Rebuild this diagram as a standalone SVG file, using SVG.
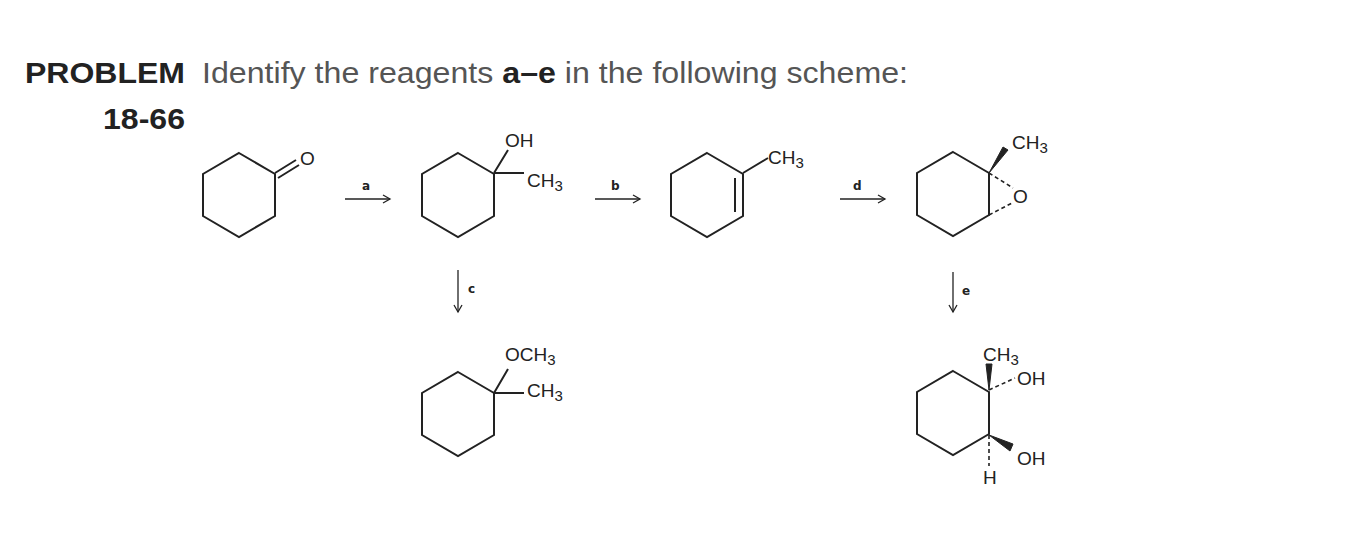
<svg xmlns="http://www.w3.org/2000/svg" width="1352" height="542" viewBox="0 0 1352 542">
<style>
.b{stroke:#222;stroke-width:2;fill:none}
.t{font-family:"Liberation Sans",Arial,sans-serif;font-size:19px;fill:#222}
.l{font-family:"DejaVu Sans",sans-serif;font-size:12px;font-weight:bold;fill:#222}
.d{stroke:#222;stroke-width:1.6;stroke-dasharray:4,3;fill:none}
.h{font-family:"Liberation Sans",Arial,sans-serif;font-size:30px}
</style>
<defs><marker id="ar" markerWidth="10" markerHeight="10" refX="8" refY="5" orient="auto" markerUnits="userSpaceOnUse"><path d="M1,1 L8,5 L1,9" fill="none" stroke="#222" stroke-width="1.3"/></marker>
<polygon id="hex" points="0,-42 36,-21 36,21 0,42 -36,21 -36,-21" class="b"/></defs>
<rect width="1352" height="542" fill="#fff"/>
<text class="h" x="25" y="83" font-weight="bold" fill="#222" textLength="160" lengthAdjust="spacingAndGlyphs">PROBLEM</text>
<text class="h" x="202" y="83" fill="#555" textLength="706" lengthAdjust="spacingAndGlyphs">Identify the reagents <tspan font-weight="bold" fill="#222">a–e</tspan> in the following scheme:</text>
<text class="h" x="103" y="129" font-weight="bold" fill="#222" textLength="82" lengthAdjust="spacingAndGlyphs">18-66</text>
<g id="ketone"><use href="#hex" x="239" y="195"/><path class="b" d="M275,173 L296,160 M278,178 L299,165"/><text class="t" x="300" y="165">O</text></g>
<g id="alcohol"><use href="#hex" x="458" y="195"/><path class="b" d="M494,173 L508,150 M494,173 L524,173"/><text class="t" x="505" y="147">OH</text><text class="t" x="527" y="187">CH<tspan font-size="15" dy="4">3</tspan></text></g>
<g id="alkene"><use href="#hex" x="707" y="195"/><path class="b" d="M735,178 L735,212 M743,173 L768,158"/><text class="t" x="768" y="164">CH<tspan font-size="15" dy="4">3</tspan></text></g>
<g id="epoxide"><use href="#hex" x="953" y="194"/><polygon points="989,173 1003,147 1008,150" fill="#222" stroke="#222"/><path class="d" d="M989,173 L1013,188 M989,215 L1012,203"/><text class="t" x="1012" y="149">CH<tspan font-size="15" dy="4">3</tspan></text><text class="t" x="1013" y="203">O</text></g>
<g id="ether"><use href="#hex" x="458" y="414"/><path class="b" d="M494,393 L508,369 M494,393 L524,393"/><text class="t" x="505" y="361">OCH<tspan font-size="15" dy="4">3</tspan></text><text class="t" x="527" y="397">CH<tspan font-size="15" dy="4">3</tspan></text></g>
<g id="diol"><use href="#hex" x="953" y="413"/><polygon points="989,390 986,364 992,364" fill="#222" stroke="#222"/><path class="d" d="M989,390 L1015,378 M989,435 L989,466"/><polygon points="989,435 1013,444 1010,451" fill="#222" stroke="#222"/><text class="t" x="983" y="361">CH<tspan font-size="15" dy="4">3</tspan></text><text class="t" x="1017" y="385">OH</text><text class="t" x="1017" y="465">OH</text><text class="t" x="983" y="484">H</text></g>
<g id="connectors" stroke="#222" stroke-width="1.3" marker-end="url(#ar)">
<line x1="345" y1="199" x2="390" y2="199"/><line x1="595" y1="199" x2="640" y2="199"/><line x1="840" y1="199" x2="885" y2="199"/>
<line x1="458" y1="270" x2="458" y2="312"/><line x1="953" y1="272" x2="953" y2="312"/>
</g>
<text class="l" x="362" y="190">a</text><text class="l" x="611" y="190">b</text><text class="l" x="853" y="190">d</text><text class="l" x="468" y="293">c</text><text class="l" x="962" y="295">e</text>
</svg>
